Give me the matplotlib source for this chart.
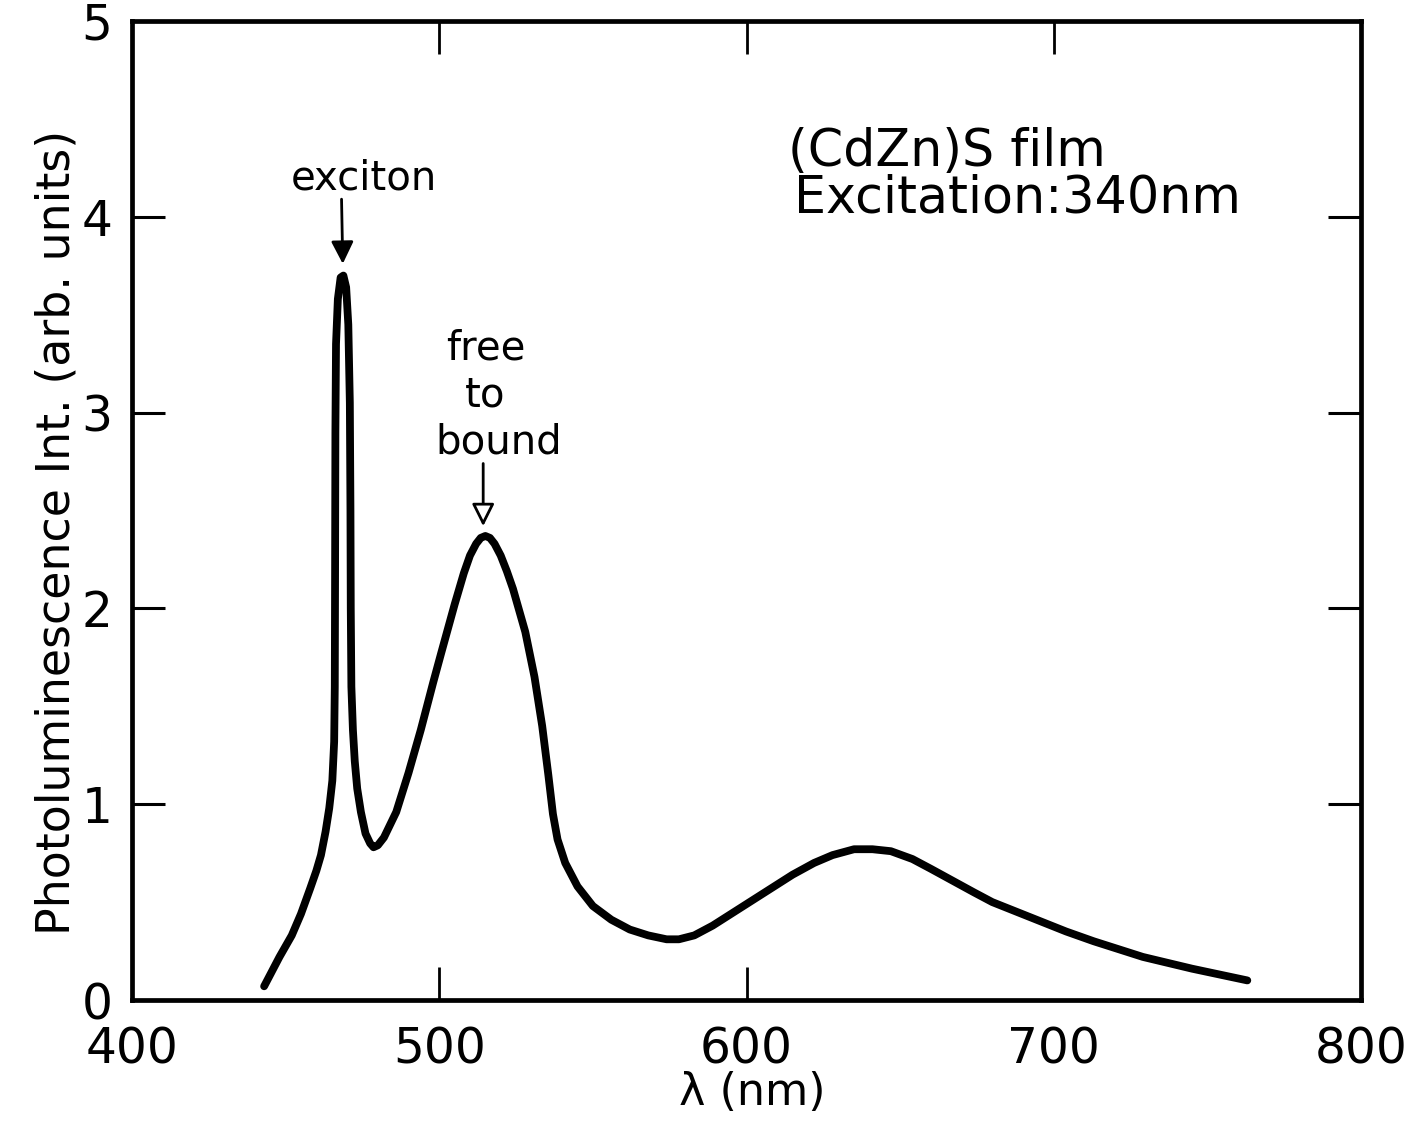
import matplotlib
matplotlib.use("Agg")
import matplotlib.pyplot as plt
from matplotlib.ticker import FixedLocator

# Photoluminescence spectrum of a (CdZn)S film
wavelength = [443, 448, 452, 455, 458, 460, 461.5, 463, 464.2, 465.2, 465.8, 466.0, 466.1,
              466.2, 466.4, 467.0, 467.9, 468.8, 469.7, 470.4, 470.9, 471.1, 471.2, 471.4,
              471.9, 472.5, 473.3, 474.5, 476, 477.5, 478.6, 480, 482, 486, 490, 494,
              498, 500.6, 505, 508, 510, 512, 513.5, 515, 516.5, 518, 520, 522, 524,
              528, 531, 533.5, 535.5, 537, 538.5, 541, 545, 550, 556, 562, 568, 574,
              578, 583, 589, 595, 602, 609, 615, 622, 628, 635, 641, 647, 654, 660,
              667, 674, 680, 688, 696, 704, 713, 721, 729, 737, 745, 754, 763]
intensity = [0.07, 0.22, 0.33, 0.44, 0.57, 0.66, 0.74, 0.86, 0.98, 1.12, 1.32, 1.60, 2.20,
             2.90, 3.35, 3.58, 3.69, 3.70, 3.64, 3.45, 3.05, 2.50, 2.00, 1.60,
             1.38, 1.22, 1.08, 0.96, 0.85, 0.80, 0.78, 0.79, 0.83, 0.96, 1.16, 1.38,
             1.62, 1.77, 2.02, 2.18, 2.27, 2.33, 2.36, 2.37, 2.36, 2.33, 2.27, 2.19, 2.10,
             1.88, 1.65, 1.40, 1.15, 0.95, 0.82, 0.70, 0.58, 0.48, 0.41, 0.36, 0.33, 0.31,
             0.31, 0.33, 0.38, 0.44, 0.51, 0.58, 0.64, 0.70, 0.74, 0.77, 0.77, 0.76, 0.72, 0.67,
             0.61, 0.55, 0.50, 0.45, 0.40, 0.35, 0.30, 0.26, 0.22, 0.19, 0.16, 0.13, 0.10]

x_ticks = [400, 500, 600, 700, 800]
x_tick_labels = ["400", "500", "600", "700", "800"]
y_ticks = [0, 1, 2, 3, 4, 5]
y_tick_labels = ["0", "1", "2", "3", "4", "5"]
bottom_marks = [500, 600]
top_marks = [500, 600, 700]

# peak positions marked by arrows
exciton_peak = (468.6, 3.70)
fb_peak = (514.3, 2.37)

plt.rcParams["font.family"] = ["DejaVu Sans"]

W, H = 1426, 1136
fig = plt.figure(figsize=(W / 100, H / 100), dpi=100)
left, right, top, bottom = 132, 1361, 21, 1000
ax = fig.add_axes([left / W, 1 - bottom / H, (right - left) / W, (bottom - top) / H])

ax.plot(wavelength, intensity, color="black", lw=5.6,
        solid_capstyle="round", solid_joinstyle="round")

ax.set_xlim(400, 800)
ax.set_ylim(0, 5)

for s in ax.spines.values():
    s.set_linewidth(3.4)

ax.xaxis.set_major_locator(FixedLocator(x_ticks))
ax.set_xticklabels(x_tick_labels)
ax.tick_params(axis="x", direction="in", length=24, width=2.0, pad=18,
               labelsize=35, bottom=True, top=False)
for val, tick in zip(x_ticks, ax.xaxis.get_major_ticks()):
    tick.tick1line.set_visible(val in bottom_marks)

ax.yaxis.set_major_locator(FixedLocator(y_ticks))
ax.set_yticklabels(y_tick_labels)
ax.tick_params(axis="y", direction="in", length=24, width=2.2, pad=14,
               labelsize=35, left=True, right=True)

sec = ax.secondary_xaxis("top")
sec.set_xticks(top_marks)
sec.set_xticklabels([])
sec.tick_params(direction="in", length=24, width=2.0)
sec.spines["top"].set_visible(False)

ax.set_xlabel("λ (nm)", fontsize=32)
ax.xaxis.set_label_coords(0.505, -0.073)
ax.set_ylabel("Photoluminescence Int. (arb. units)", fontsize=33)
ax.yaxis.set_label_coords(-0.043, 0.478)

txt_size = 29
ax.text(475.5, 4.14, "exciton", fontsize=txt_size, ha="center", va="baseline")
ax.annotate("", xy=(exciton_peak[0], exciton_peak[1] + 0.06), xytext=(468.2, 4.09),
            arrowprops=dict(arrowstyle="-|>", color="black", lw=2,
                            mutation_scale=34, shrinkA=0, shrinkB=0))

for line, xc, yb in zip(["free", "to", "bound"], [515.3, 515.0, 519.2], [3.27, 3.03, 2.79]):
    ax.text(xc, yb, line, fontsize=txt_size, ha="center", va="baseline")
ax.annotate("", xy=(fb_peak[0], fb_peak[1] + 0.05), xytext=(fb_peak[0], 2.74),
            arrowprops=dict(arrowstyle="-|>", fc="white", ec="black", lw=2,
                            mutation_scale=34, shrinkA=0, shrinkB=0))

ax.text(613.4, 4.26, "(CdZn)S film", fontsize=36.5, ha="left", va="baseline")
ax.text(615.4, 4.02, "Excitation:340nm", fontsize=36.5, ha="left", va="baseline")

fig.savefig("out.png", dpi=100, facecolor="white")
